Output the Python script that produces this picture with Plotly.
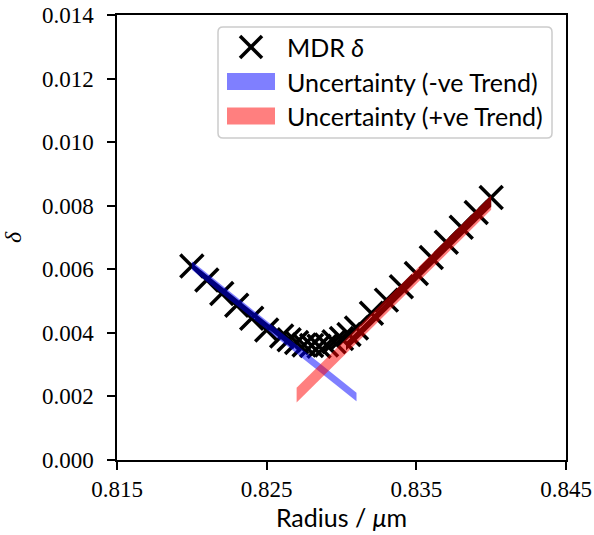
import plotly.graph_objects as go

# Data
radius = [0.8200, 0.8210, 0.8220, 0.8230, 0.8240, 0.8250, 0.8260,
          0.8265, 0.8270, 0.8275, 0.8280, 0.8285, 0.8290, 0.8295, 0.8300, 0.8305,
          0.8310, 0.8320, 0.8330, 0.8340, 0.8350, 0.8360, 0.8370, 0.8380, 0.8390, 0.8400]
delta = [0.00610, 0.00566, 0.00524, 0.00487, 0.00446, 0.00409, 0.00390,
         0.00378, 0.00370, 0.00362, 0.00360, 0.00358, 0.00362, 0.00372, 0.00382, 0.00395,
         0.00415, 0.00462, 0.00503, 0.00545, 0.00587, 0.00637, 0.00685, 0.00732, 0.00779, 0.00826]

# Uncertainty bands (trend line end points and half widths)
neg_band_x = [0.8200, 0.8310]
neg_band_centre = [0.00612, 0.00198]
neg_band_half = 0.000135
neg_fit_x = [0.8200, 0.8268]
neg_fit_half = 0.00008

pos_band_x = [0.8270, 0.8400]
pos_band_centre = [0.00204, 0.00810]
pos_band_half = 0.00023
pos_fit_x = [0.8303, 0.8400]
pos_fit_half = 0.00013

x_ticks = [0.815, 0.825, 0.835, 0.845]
y_ticks = [0.000, 0.002, 0.004, 0.006, 0.008, 0.010, 0.012, 0.014]

legend_labels = ["MDR <i>δ</i>", "Uncertainty (-ve Trend)", "Uncertainty (+ve Trend)"]
BLUE_BAND = "rgba(0,0,255,0.5)"
RED_BAND = "rgba(255,0,0,0.5)"


def centre_at(bx, bc, x):
    t = (x - bx[0]) / (bx[1] - bx[0])
    return bc[0] + t * (bc[1] - bc[0])


def band_polygon(bx, bc, x0, x1, half):
    c0 = centre_at(bx, bc, x0)
    c1 = centre_at(bx, bc, x1)
    xs = [x0, x1, x1, x0, x0]
    ys = [c0 + half, c1 + half, c1 - half, c0 - half, c0 + half]
    return xs, ys


W, H = 594, 535
ML, MR, MT, MB = 117, 28, 15, 75
PW, PH = W - ML - MR, H - MT - MB


def px(x):
    return (x - ML) / PW


def py(y):
    return (H - MB - y) / PH


fig = go.Figure()

# dark cores (black under the translucent bands)
for bx, bc, fx, fh in [(neg_band_x, neg_band_centre, neg_fit_x, neg_fit_half),
                       (pos_band_x, pos_band_centre, pos_fit_x, pos_fit_half)]:
    xs, ys = band_polygon(bx, bc, fx[0], fx[1], fh)
    fig.add_trace(go.Scatter(x=xs, y=ys, mode="none", fill="toself",
                             fillcolor="black", showlegend=False, hoverinfo="skip"))

fig.add_trace(go.Scatter(
    x=radius, y=delta, mode="markers", name=legend_labels[0], showlegend=False,
    marker=dict(symbol="x-thin", size=23, line=dict(width=3.5, color="black"), color="black"),
))

xs, ys = band_polygon(neg_band_x, neg_band_centre, neg_band_x[0], neg_band_x[1], neg_band_half)
fig.add_trace(go.Scatter(x=xs, y=ys, mode="none", fill="toself", fillcolor=BLUE_BAND,
                         name=legend_labels[1], showlegend=False))
xs, ys = band_polygon(pos_band_x, pos_band_centre, pos_band_x[0], pos_band_x[1], pos_band_half)
fig.add_trace(go.Scatter(x=xs, y=ys, mode="none", fill="toself", fillcolor=RED_BAND,
                         name=legend_labels[2], showlegend=False))

serif = "Liberation Serif, DejaVu Serif, serif"
sans = "Lato, DejaVu Sans, sans-serif"

# --- matplotlib-style legend drawn with shapes / annotations ---
bx0, bx1, by0, by1, r = 218, 552, 27, 138, 5
box_path = (f"M {px(bx0 + r)},{py(by0)} L {px(bx1 - r)},{py(by0)} "
            f"Q {px(bx1)},{py(by0)} {px(bx1)},{py(by0 + r)} "
            f"L {px(bx1)},{py(by1 - r)} Q {px(bx1)},{py(by1)} {px(bx1 - r)},{py(by1)} "
            f"L {px(bx0 + r)},{py(by1)} Q {px(bx0)},{py(by1)} {px(bx0)},{py(by1 - r)} "
            f"L {px(bx0)},{py(by0 + r)} Q {px(bx0)},{py(by0)} {px(bx0 + r)},{py(by0)} Z")
shapes = [dict(type="path", xref="paper", yref="paper", path=box_path, layer="above",
               fillcolor="rgba(255,255,255,0.8)", line=dict(color="#cccccc", width=1.5))]
row_y = [47, 81.5, 116]
mx, ms = 251, 11
for dx, dy in [(1, 1), (1, -1)]:
    shapes.append(dict(type="line", xref="paper", yref="paper", layer="above",
                       x0=px(mx - ms), y0=py(row_y[0] - dy * ms),
                       x1=px(mx + ms), y1=py(row_y[0] + dy * ms),
                       line=dict(color="black", width=3.5)))
for yy, col in [(row_y[1], BLUE_BAND), (row_y[2], RED_BAND)]:
    shapes.append(dict(type="rect", xref="paper", yref="paper", layer="above",
                       x0=px(227), x1=px(275), y0=py(yy - 8.5), y1=py(yy + 8.5),
                       fillcolor=col, line=dict(width=0)))
annotations = [dict(xref="paper", yref="paper", x=px(285), y=py(yy), text=t,
                    showarrow=False, xanchor="left", yanchor="middle",
                    font=dict(family=sans, size=25, color="black"))
               for yy, t in zip(row_y, legend_labels)]

fig.update_layout(
    width=W, height=H,
    margin=dict(l=ML, r=MR, t=MT, b=MB, autoexpand=False),
    paper_bgcolor="white", plot_bgcolor="white",
    font=dict(family=sans, size=24, color="black"),
    showlegend=False,
    shapes=shapes, annotations=annotations,
    xaxis=dict(range=[0.815, 0.845], tickvals=x_ticks, tickformat=".3f", automargin=False,
               showgrid=False, zeroline=False, showline=True, linecolor="black",
               linewidth=1.5, mirror=True, ticks="outside", ticklen=8, tickwidth=1.5,
               tickcolor="black", tickfont=dict(family=serif, size=23), ticklabelstandoff=0,
               ticklabeloverflow="allow",
               title=dict(text="Radius / <i>μ</i>m", font=dict(family=sans, size=25), standoff=6)),
    yaxis=dict(range=[0, 0.014], tickvals=y_ticks, tickformat=".3f", automargin=False,
               showgrid=False, zeroline=False, showline=True, linecolor="black",
               linewidth=1.5, mirror=True, ticks="outside", ticklen=8, tickwidth=1.5,
               tickcolor="black", tickfont=dict(family=serif, size=23), ticklabelstandoff=9,
               ticklabeloverflow="allow",
               title=dict(text="<i>δ</i>", font=dict(family=serif, size=24), standoff=19)),
)

# remove the default 8px page margin so the figure fills the window exactly
fig.write_html("out.html", config={"displayModeBar": False},
               post_script="document.body.style.margin='0px';")
